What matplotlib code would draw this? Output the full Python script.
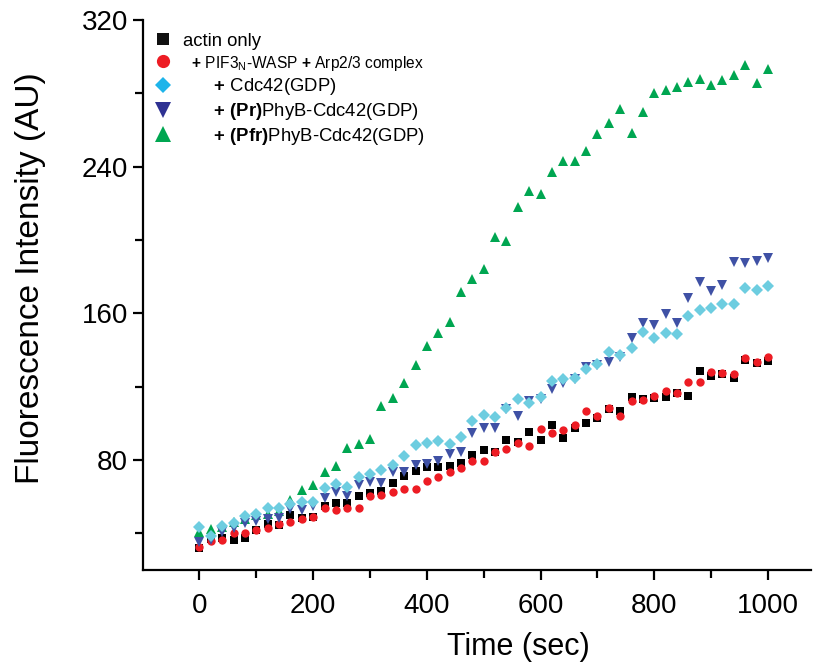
import numpy as np
import matplotlib
matplotlib.use("Agg")
import matplotlib.pyplot as plt
from matplotlib.lines import Line2D
from matplotlib.ticker import FixedLocator

plt.rcParams['font.family'] = ['Liberation Sans', 'DejaVu Sans']
plt.rcParams['mathtext.fontset'] = 'custom'
plt.rcParams['mathtext.rm'] = 'Liberation Sans'
plt.rcParams['mathtext.bf'] = 'Liberation Sans:bold'

# time points (sec)
time = np.arange(0, 1001, 20)

# actin only
actin_only = [31.8, 37.0, 37.5, 36.4, 37.3, 42.0, 44.9, 44.5, 50.0, 48.2,
              49.0, 55.0, 56.7, 56.7, 60.4, 61.8, 63.1, 67.6, 71.3, 74.0,
              76.4, 76.0, 77.0, 78.2, 82.7, 85.5, 84.5, 90.9, 90.0, 95.5,
              90.9, 99.1, 91.8, 97.6, 100.4, 102.7, 108.0, 106.7, 114.5, 113.1,
              114.0, 114.5, 116.5, 115.1, 128.6, 126.0, 127.0, 124.6, 134.6, 132.8,
              134.2]
# + PIF3N-WASP + Arp2/3 complex
wasp_arp = [32.7, 36.0, 36.4, 40.3, 40.3, 41.8, 42.7, 44.9, 46.3, 48.0,
            49.1, 53.6, 52.7, 53.6, 53.6, 60.4, 60.9, 62.7, 64.2, 64.2,
            68.5, 70.7, 73.5, 75.5, 79.5, 79.5, 84.5, 85.8, 89.4, 87.8,
            96.7, 94.5, 96.4, 99.1, 106.7, 104.0, 108.5, 104.0, 112.0, 113.0,
            114.9, 117.6, 116.7, 122.7, 122.4, 127.8, 127.3, 126.9, 135.8, 133.6,
            136.4]
# + Cdc42(GDP)
cdc42 = [43.6, 38.5, 44.0, 45.8, 49.4, 50.4, 54.0, 53.6, 55.8, 57.0,
         57.3, 64.9, 66.9, 65.4, 70.5, 72.2, 74.5, 77.3, 82.0, 88.4,
         89.1, 90.4, 88.6, 92.7, 101.5, 104.5, 103.3, 108.2, 113.1, 110.9,
         114.5, 123.3, 124.2, 124.9, 129.5, 132.4, 139.1, 137.3, 141.3, 149.8,
         146.4, 149.1, 148.6, 158.6, 161.8, 162.8, 165.1, 165.0, 174.0, 172.7,
         174.9]
# + (Pr)PhyB-Cdc42(GDP)
pr_phyb = [35.4, 36.4, 40.9, 42.7, 45.5, 46.5, 47.6, 48.5, 53.1, 52.7,
           55.0, 59.1, 62.7, 60.4, 66.4, 68.2, 67.3, 73.3, 73.6, 77.5,
           77.6, 79.5, 83.3, 84.5, 94.5, 97.6, 97.3, 108.0, 104.0, 112.2,
           113.5, 118.5, 121.8, 124.0, 130.6, 132.0, 133.3, 136.4, 146.4, 154.6,
           153.6, 159.7, 154.6, 168.5, 177.3, 172.4, 175.5, 187.9, 187.7, 188.3,
           190.0]
# + (Pfr)PhyB-Cdc42(GDP)
pfr_phyb = [40.9, 42.2, 43.5, 46.3, 48.0, 50.0, 50.4, 52.0, 58.2, 63.5,
            66.5, 73.6, 77.0, 86.3, 88.7, 91.4, 109.6, 114.0, 121.8, 131.8,
            142.4, 149.4, 155.5, 171.8, 178.6, 184.4, 201.5, 199.6, 217.9, 226.6,
            225.3, 237.0, 243.0, 243.0, 248.7, 258.0, 263.8, 271.7, 258.2, 269.7,
            280.0, 281.7, 283.5, 286.2, 287.7, 284.4, 287.3, 289.9, 295.5, 285.8,
            293.3]

labels = ['actin only',
          r'  $\mathbf{+}$ PIF3$_\mathrm{N}$-WASP $\mathbf{+}$ Arp2/3 complex',
          r'      $\mathbf{+}$ Cdc42(GDP)',
          r'      $\mathbf{+}$ $\mathbf{(Pr)}$PhyB-Cdc42(GDP)',
          r'      $\mathbf{+}$ $\mathbf{(Pfr)}$PhyB-Cdc42(GDP)']

fig = plt.figure(figsize=(8.16, 6.67), dpi=100)
ax = fig.add_axes([0.1748, 0.1454, 0.8186, 0.8246])

ax.plot(time, actin_only, 's', color='black', ms=5.5, mew=0, zorder=3)
ax.plot(time, wasp_arp, 'o', color='#ED1C24', ms=6, mew=0, zorder=4)
ax.plot(time, pfr_phyb, '^', color='#00A651', ms=7, mew=0, zorder=3)
ax.plot(time, pr_phyb, 'v', color='#3F51A5', ms=7, mew=0, zorder=4)
ax.plot(time, cdc42, 'D', color='#6DCDE0', ms=6.5, mew=0, zorder=5)

handles = [Line2D([], [], ls='none', marker='s', color='#111111', ms=8.5, mew=0),
           Line2D([], [], ls='none', marker='o', color='#ED1C24', ms=9.5, mew=0),
           Line2D([], [], ls='none', marker='D', color='#1EB4EA', ms=8.5, mew=0),
           Line2D([], [], ls='none', marker='v', color='#2E3192', ms=11, mew=0),
           Line2D([], [], ls='none', marker='^', color='#00A651', ms=11, mew=0)]
leg = ax.legend(handles, labels, loc='upper left', bbox_to_anchor=(0.0, 1.0),
                frameon=False, fontsize=13.3, handlelength=0.8, handletextpad=0.7,
                labelspacing=0.2, borderaxespad=0.3, borderpad=0.4)
leg.get_texts()[1].set_fontsize(11.2)

ax.set_xlim(-100, 1075)
ax.set_ylim(20, 320)
ax.set_xticks([0, 200, 400, 600, 800, 1000])
ax.set_yticks([80, 160, 240, 320])
ax.xaxis.set_minor_locator(FixedLocator([100, 300, 500, 700, 900]))
ax.yaxis.set_minor_locator(FixedLocator([40, 120, 200, 280]))

ax.spines['top'].set_visible(False)
ax.spines['right'].set_visible(False)
ax.spines['left'].set_linewidth(1.6)
ax.spines['bottom'].set_linewidth(1.6)
ax.tick_params(which='major', direction='out', length=7.5, width=1.6, labelsize=20)
ax.tick_params(axis='y', which='major', pad=3)
ax.tick_params(axis='x', which='major', pad=9)
ax.tick_params(which='minor', direction='out', length=6, width=1.6)

ax.set_xlabel('Time (sec)', fontsize=22)
ax.set_ylabel('Fluorescence Intensity (AU)', fontsize=24)
ax.xaxis.set_label_coords(0.562, -0.112)
ax.yaxis.set_label_coords(-0.145, 0.53)

fig.savefig('out.png', dpi=100)
